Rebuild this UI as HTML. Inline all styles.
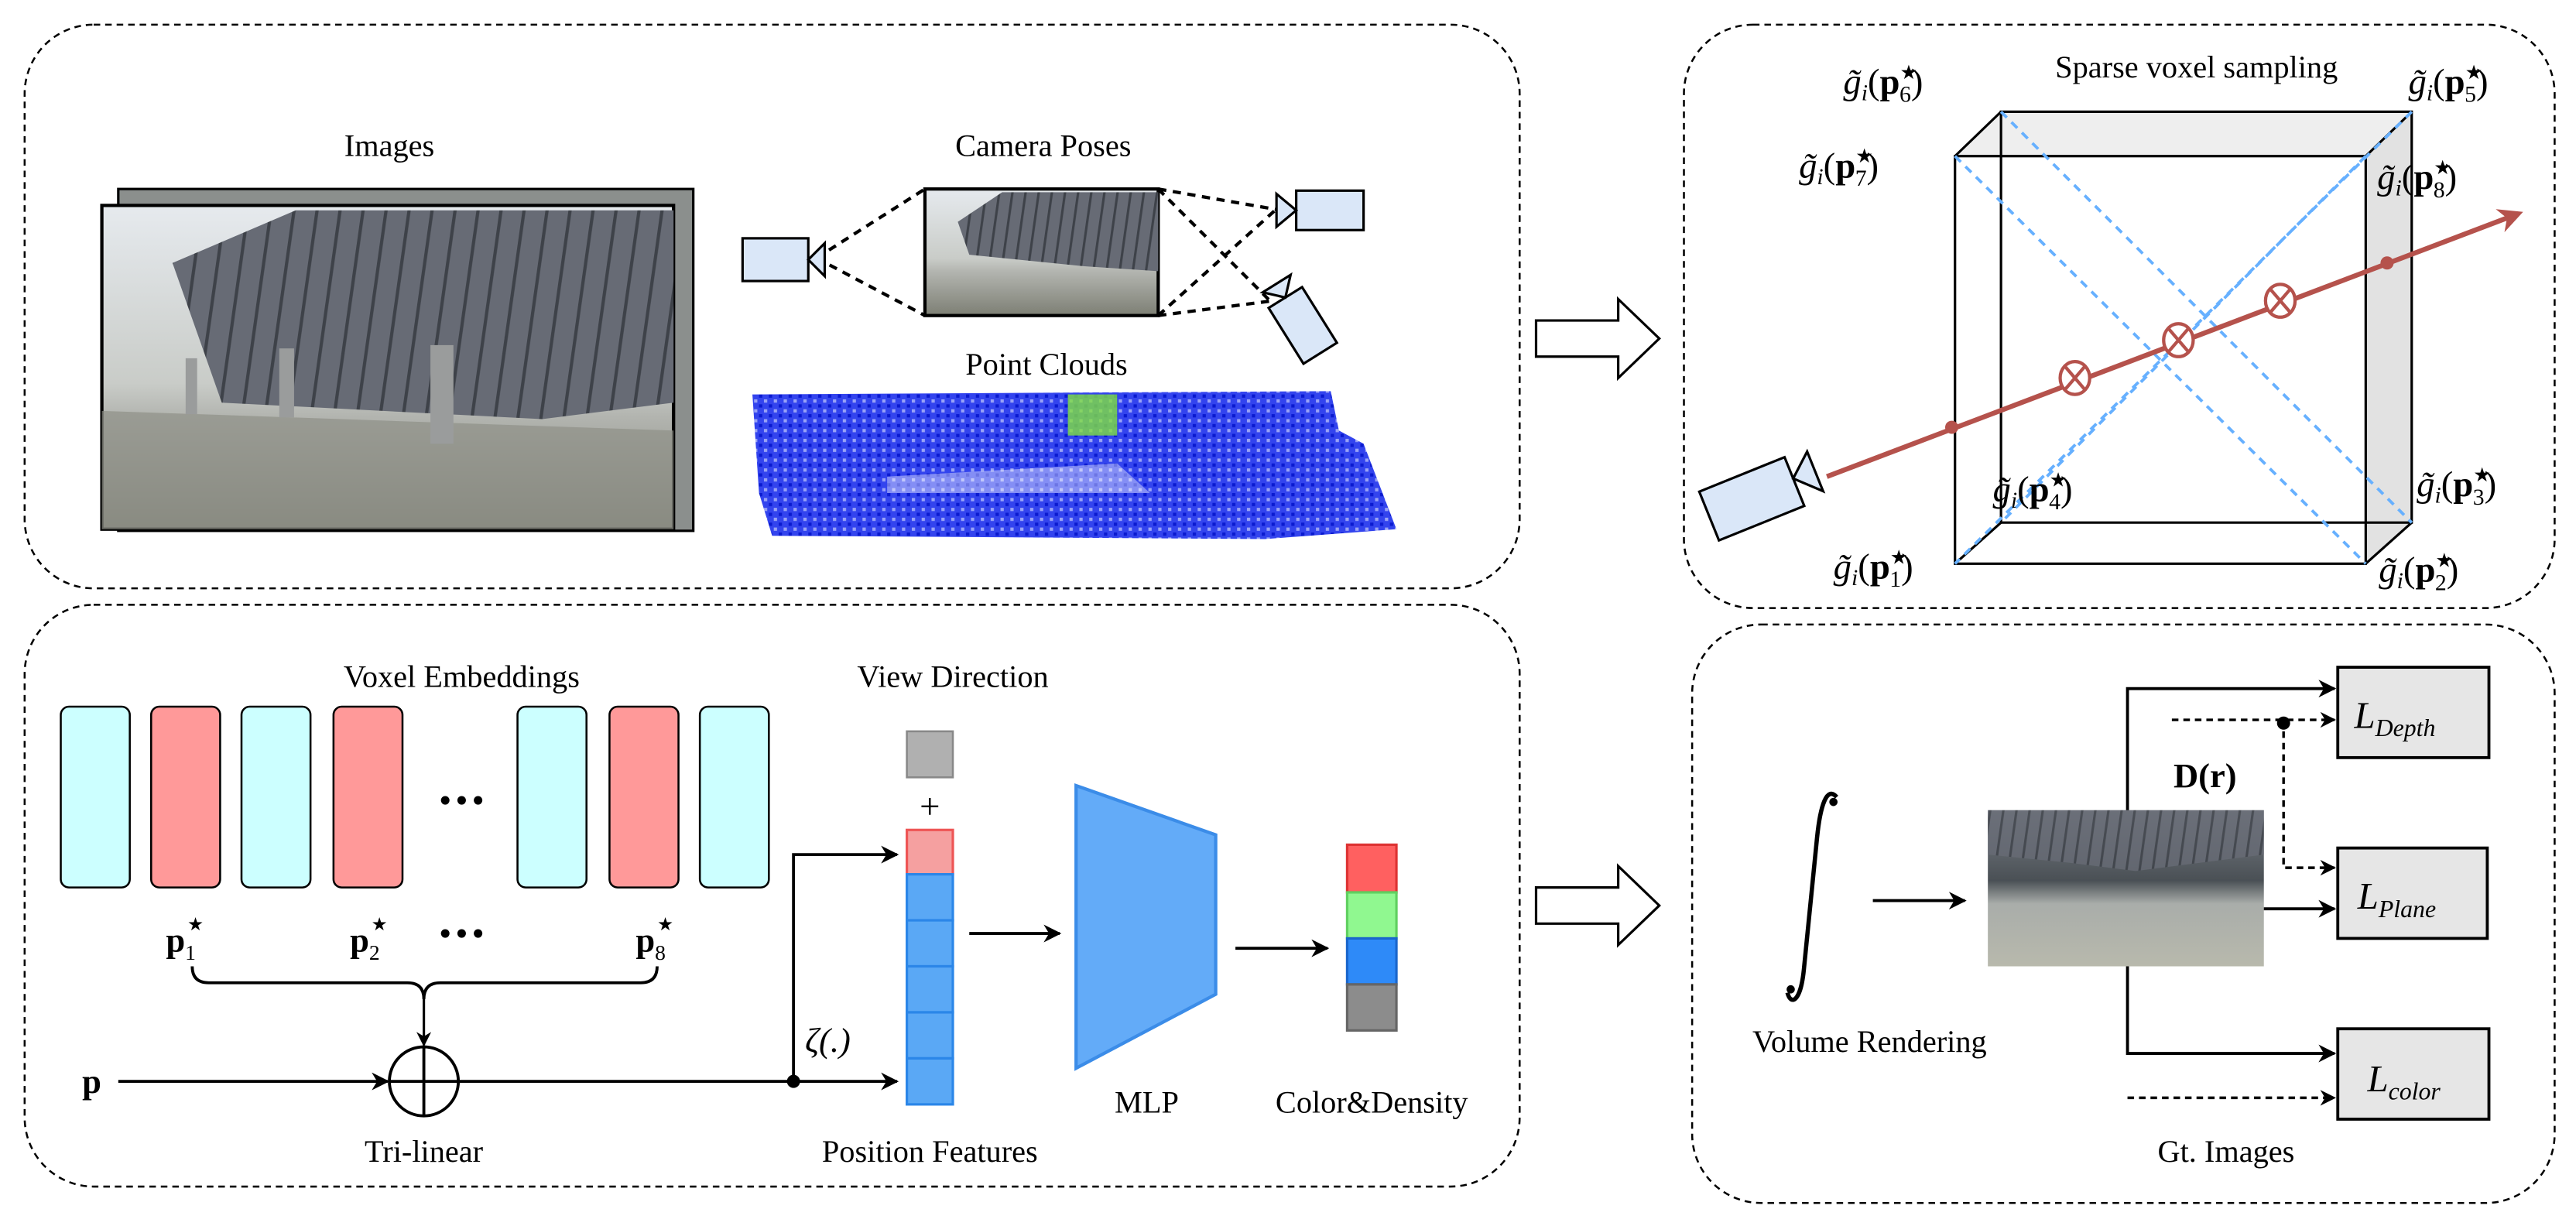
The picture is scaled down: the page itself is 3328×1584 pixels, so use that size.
<!DOCTYPE html>
<html><head><meta charset="utf-8"><style>
html,body{margin:0;padding:0;background:#fff;}
svg{display:block;font-family:"Liberation Serif","DejaVu Serif",serif;}
svg text{font-family:"Liberation Serif","DejaVu Serif",serif;fill:#000;}
</style></head><body>
<svg width="3328" height="1584" viewBox="0 0 1568 746" preserveAspectRatio="none" xmlns="http://www.w3.org/2000/svg" font-family="Liberation Serif, DejaVu Serif, serif">
<defs>
<marker id="ah" viewBox="0 0 10 10" refX="9" refY="5" markerWidth="6" markerHeight="6" orient="auto"><path d="M0,0 L10,5 L0,10 L3,5 z" fill="#000"/></marker>
<marker id="ahr" viewBox="0 0 10 10" refX="8" refY="5" markerWidth="5" markerHeight="5" orient="auto"><path d="M0,0 L10,5 L0,10 L3,5 z" fill="#b5524c"/></marker>
<linearGradient id="sky" x1="0" y1="0" x2="0" y2="1">
<stop offset="0" stop-color="#e6eaee"/><stop offset="0.55" stop-color="#c9ccc8"/><stop offset="0.65" stop-color="#b3b5b0"/><stop offset="1" stop-color="#7d7f74"/></linearGradient>
<pattern id="stripes" width="14" height="20" patternUnits="userSpaceOnUse" patternTransform="skewX(-8)">
<rect width="14" height="20" fill="#676b75"/><rect width="2" height="20" fill="#3e4249"/></pattern>
<pattern id="stripes2" width="8" height="20" patternUnits="userSpaceOnUse" patternTransform="skewX(-8)">
<rect width="8" height="20" fill="#676b75"/><rect width="1.5" height="20" fill="#3e4249"/></pattern>
<pattern id="pc" width="6" height="6" patternUnits="userSpaceOnUse">
<rect width="6" height="6" fill="#3344ee"/><rect width="2" height="2" fill="#0a1ad0"/><rect x="3" y="3" width="2" height="2" fill="#fff" opacity="0.5"/></pattern>
<linearGradient id="photo2" x1="0" y1="0" x2="0" y2="1">
<stop offset="0" stop-color="#7b8088"/><stop offset="0.45" stop-color="#4a5055"/><stop offset="0.6" stop-color="#a9adaa"/><stop offset="1" stop-color="#b8b9ac"/></linearGradient>
</defs>

<g fill="none" stroke="#000" stroke-width="1.2" stroke-dasharray="4,3">
<rect x="15" y="15" width="910" height="343" rx="42"/>
<rect x="1025" y="15" width="530" height="355" rx="42"/>
<rect x="15" y="368" width="910" height="354" rx="42"/>
<rect x="1030" y="380" width="525" height="352" rx="42"/>
</g>

<text x="237" y="95" font-size="19" text-anchor="middle">Images</text>
<rect x="72" y="115" width="350" height="208" fill="#8b8f8d" stroke="#000" stroke-width="1.5"/>
<rect x="62" y="125" width="348" height="197" fill="url(#sky)" stroke="#000" stroke-width="2"/>
<polygon points="105,160 180,128 410,128 410,245 330,255 135,245" fill="url(#stripes)"/>
<polygon points="62,250 410,262 410,322 62,322" fill="#8e9088" opacity="0.7"/>
<g fill="#9a9c9c"><rect x="262" y="210" width="14" height="60"/><rect x="170" y="212" width="9" height="42"/><rect x="113" y="218" width="7" height="34"/></g>
<text x="635" y="95" font-size="19" text-anchor="middle">Camera Poses</text>
<rect x="563" y="115" width="142" height="77" fill="url(#sky)" stroke="#000" stroke-width="2"/>
<polygon points="583,135 610,117 705,117 705,165 660,162 590,155" fill="url(#stripes2)"/>
<g stroke="#000" stroke-width="2" stroke-dasharray="5,4" fill="none">
<path d="M497,157 L563,115 M497,157 L563,192"/>
<path d="M705,115 L780,128 M705,115 L775,185 M705,192 L775,183 M705,192 L785,120"/>
</g>
<g fill="#dae7f8" stroke="#000" stroke-width="1.5">
<rect x="452" y="145" width="40" height="26"/><polygon points="492,158 502,148 502,168"/>
<rect x="789" y="116" width="41" height="24"/><polygon points="789,128 777,118 777,138"/>
<g transform="translate(793,198) rotate(58)"><rect x="-20" y="-12" width="40" height="24"/><polygon points="-20,0 -30,-10 -30,10"/></g>
</g>
<text x="637" y="228" font-size="19" text-anchor="middle">Point Clouds</text>
<polygon points="458,240 810,238 815,262 830,270 850,322 770,328 470,326 462,300" fill="url(#pc)"/>
<rect x="650" y="240" width="30" height="25" fill="#7fe040" opacity="0.8"/>
<polygon points="540,290 680,282 700,300 540,300" fill="#fff" opacity="0.4"/>

<g fill="#fff" stroke="#000" stroke-width="1.5">
<polygon points="935,195 985,195 985,182 1010,206 985,230 985,217 935,217"/>
<polygon points="935,540 985,540 985,527 1010,551 985,575 985,562 935,562"/>
</g>

<text x="1337" y="47" font-size="19" text-anchor="middle">Sparse voxel sampling</text>
<polygon points="1190,95 1218,68 1468,68 1440,95" fill="#eeeeee"/>
<polygon points="1440,95 1468,68 1468,318 1440,343" fill="#e2e2e2"/>
<g stroke="#000" stroke-width="1.5" fill="none">
<rect x="1190" y="95" width="250" height="248"/>
<polyline points="1218,318 1218,68 1468,68 1468,318 1218,318"/>
<path d="M1190,95 L1218,68 M1440,95 L1468,68 M1440,343 L1468,318 M1190,343 L1218,318"/>
</g>
<g stroke="#66b0ff" stroke-width="1.8" stroke-dasharray="5,4" fill="none">
<path d="M1190,95 L1440,343 M1218,68 L1468,318 M1468,68 L1190,343 M1440,95 L1218,318"/>
</g>
<line x1="1112" y1="290" x2="1533" y2="130" stroke="#b5524c" stroke-width="3" marker-end="url(#ahr)"/>
<g fill="#b5524c"><circle cx="1188" cy="260" r="4"/><circle cx="1453" cy="160" r="4"/></g>
<g stroke="#b5524c" stroke-width="2" fill="#fff">
<g transform="translate(1263,230)"><ellipse rx="9" ry="10"/><path d="M-6,-7 L6,7 M6,-7 L-6,7"/></g>
<g transform="translate(1326,207)"><ellipse rx="9" ry="10"/><path d="M-6,-7 L6,7 M6,-7 L-6,7"/></g>
<g transform="translate(1388,183)"><ellipse rx="9" ry="10"/><path d="M-6,-7 L6,7 M6,-7 L-6,7"/></g>
</g>
<g fill="#dae7f8" stroke="#000" stroke-width="1.5" transform="translate(1070,302) rotate(-22)">
<rect x="-32" y="-16" width="56" height="32"/><polygon points="24,-2 38,-14 38,12"/>
</g>
<g font-size="22">
<text x="1122" y="57"><tspan font-style="italic">g̃</tspan><tspan font-size="14" font-style="italic" dy="4">i</tspan><tspan dy="-4">(</tspan><tspan font-weight="bold">p</tspan><tspan font-size="12" dy="-9">★</tspan><tspan font-size="14" dx="-11" dy="14">6</tspan><tspan dy="-5">)</tspan></text>
<text x="1466" y="57"><tspan font-style="italic">g̃</tspan><tspan font-size="14" font-style="italic" dy="4">i</tspan><tspan dy="-4">(</tspan><tspan font-weight="bold">p</tspan><tspan font-size="12" dy="-9">★</tspan><tspan font-size="14" dx="-11" dy="14">5</tspan><tspan dy="-5">)</tspan></text>
<text x="1095" y="108"><tspan font-style="italic">g̃</tspan><tspan font-size="14" font-style="italic" dy="4">i</tspan><tspan dy="-4">(</tspan><tspan font-weight="bold">p</tspan><tspan font-size="12" dy="-9">★</tspan><tspan font-size="14" dx="-11" dy="14">7</tspan><tspan dy="-5">)</tspan></text>
<text x="1447" y="115"><tspan font-style="italic">g̃</tspan><tspan font-size="14" font-style="italic" dy="4">i</tspan><tspan dy="-4">(</tspan><tspan font-weight="bold">p</tspan><tspan font-size="12" dy="-9">★</tspan><tspan font-size="14" dx="-11" dy="14">8</tspan><tspan dy="-5">)</tspan></text>
<text x="1213" y="305"><tspan font-style="italic">g̃</tspan><tspan font-size="14" font-style="italic" dy="4">i</tspan><tspan dy="-4">(</tspan><tspan font-weight="bold">p</tspan><tspan font-size="12" dy="-9">★</tspan><tspan font-size="14" dx="-11" dy="14">4</tspan><tspan dy="-5">)</tspan></text>
<text x="1471" y="302"><tspan font-style="italic">g̃</tspan><tspan font-size="14" font-style="italic" dy="4">i</tspan><tspan dy="-4">(</tspan><tspan font-weight="bold">p</tspan><tspan font-size="12" dy="-9">★</tspan><tspan font-size="14" dx="-11" dy="14">3</tspan><tspan dy="-5">)</tspan></text>
<text x="1116" y="352"><tspan font-style="italic">g̃</tspan><tspan font-size="14" font-style="italic" dy="4">i</tspan><tspan dy="-4">(</tspan><tspan font-weight="bold">p</tspan><tspan font-size="12" dy="-9">★</tspan><tspan font-size="14" dx="-11" dy="14">1</tspan><tspan dy="-5">)</tspan></text>
<text x="1448" y="354"><tspan font-style="italic">g̃</tspan><tspan font-size="14" font-style="italic" dy="4">i</tspan><tspan dy="-4">(</tspan><tspan font-weight="bold">p</tspan><tspan font-size="12" dy="-9">★</tspan><tspan font-size="14" dx="-11" dy="14">2</tspan><tspan dy="-5">)</tspan></text>
</g>

<text x="281" y="418" font-size="19" text-anchor="middle">Voxel Embeddings</text>
<text x="580" y="418" font-size="19" text-anchor="middle">View Direction</text>
<g stroke="#000" stroke-width="1.2">
<rect x="37" y="430" width="42" height="110" rx="5" fill="#ccffff"/>
<rect x="92" y="430" width="42" height="110" rx="5" fill="#ff9999"/>
<rect x="147" y="430" width="42" height="110" rx="5" fill="#ccffff"/>
<rect x="203" y="430" width="42" height="110" rx="5" fill="#ff9999"/>
<rect x="315" y="430" width="42" height="110" rx="5" fill="#ccffff"/>
<rect x="371" y="430" width="42" height="110" rx="5" fill="#ff9999"/>
<rect x="426" y="430" width="42" height="110" rx="5" fill="#ccffff"/>
</g>
<g fill="#000"><circle cx="271" cy="487" r="2.6"/><circle cx="281" cy="487" r="2.6"/><circle cx="291" cy="487" r="2.6"/>
<circle cx="271" cy="568" r="2.6"/><circle cx="281" cy="568" r="2.6"/><circle cx="291" cy="568" r="2.6"/></g>
<g font-size="21" font-weight="bold">
<text x="101" y="579">p<tspan font-size="13" dy="5" font-weight="normal">1</tspan></text>
<text x="213" y="579">p<tspan font-size="13" dy="5" font-weight="normal">2</tspan></text>
<text x="387" y="579">p<tspan font-size="13" dy="5" font-weight="normal">8</tspan></text>
</g>
<g font-size="11"><text x="114" y="566">★</text><text x="226" y="566">★</text><text x="400" y="566">★</text></g>
<path d="M117,588 Q117,598 127,598 L248,598 Q258,598 258,608 Q258,598 268,598 L390,598 Q400,598 400,588" fill="none" stroke="#000" stroke-width="1.8"/>
<line x1="258" y1="608" x2="258" y2="636" stroke="#000" stroke-width="1.5" marker-end="url(#ah)"/>
<circle cx="258" cy="658" r="21" fill="none" stroke="#000" stroke-width="1.8"/>
<path d="M237,658 L279,658 M258,637 L258,679" stroke="#000" stroke-width="1.8"/>
<text x="50" y="665" font-size="21" font-weight="bold">p</text>
<line x1="72" y1="658" x2="236" y2="658" stroke="#000" stroke-width="1.8" marker-end="url(#ah)"/>
<line x1="279" y1="658" x2="546" y2="658" stroke="#000" stroke-width="1.8" marker-end="url(#ah)"/>
<circle cx="483" cy="658" r="4" fill="#000"/>
<polyline points="483,658 483,520 546,520" fill="none" stroke="#000" stroke-width="1.8" marker-end="url(#ah)"/>
<text x="490" y="640" font-size="21" font-style="italic">ζ(.)</text>
<text x="258" y="707" font-size="19" text-anchor="middle">Tri-linear</text>
<text x="566" y="707" font-size="19" text-anchor="middle">Position Features</text>
<rect x="552" y="445" width="28" height="28" fill="#b0b0b0" stroke="#888" stroke-width="1.2"/>
<text x="566" y="498" font-size="22" text-anchor="middle">+</text>
<rect x="552" y="505" width="28" height="27" fill="#f5a0a0" stroke="#ee5555" stroke-width="1.5"/>
<g fill="#5aa8f5" stroke="#2b86e8" stroke-width="1.5">
<rect x="552" y="532" width="28" height="28"/><rect x="552" y="560" width="28" height="28"/><rect x="552" y="588" width="28" height="28"/><rect x="552" y="616" width="28" height="28"/><rect x="552" y="644" width="28" height="28"/>
</g>
<line x1="590" y1="568" x2="645" y2="568" stroke="#000" stroke-width="1.8" marker-end="url(#ah)"/>
<polygon points="655,478 740,508 740,605 655,650" fill="#63abf8" stroke="#3b8ce8" stroke-width="2"/>
<text x="698" y="677" font-size="19" text-anchor="middle">MLP</text>
<line x1="752" y1="577" x2="808" y2="577" stroke="#000" stroke-width="1.8" marker-end="url(#ah)"/>
<rect x="820" y="514" width="30" height="29" fill="#ff6060" stroke="#dd3333" stroke-width="1.5"/>
<rect x="820" y="543" width="30" height="28" fill="#90f890" stroke="#60d060" stroke-width="1.5"/>
<rect x="820" y="571" width="30" height="28" fill="#2e8af8" stroke="#1a66cc" stroke-width="1.5"/>
<rect x="820" y="599" width="30" height="28" fill="#8c8c8c" stroke="#666" stroke-width="1.5"/>
<text x="835" y="677" font-size="19" text-anchor="middle">Color&amp;Density</text>

<path d="M1118,485 C1112,478 1108,490 1106,510 L1098,590 C1096,610 1090,612 1088,604" fill="none" stroke="#000" stroke-width="2.6"/>
<circle cx="1116" cy="488" r="2.5" fill="#000"/><circle cx="1090" cy="602" r="2.5" fill="#000"/>
<line x1="1140" y1="548" x2="1196" y2="548" stroke="#000" stroke-width="1.8" marker-end="url(#ah)"/>
<text x="1138" y="640" font-size="19" text-anchor="middle">Volume Rendering</text>
<rect x="1210" y="493" width="168" height="95" fill="url(#photo2)"/>
<polygon points="1210,493 1378,493 1378,520 1300,530 1260,525 1210,520" fill="url(#stripes2)" opacity="0.8"/>
<g stroke="#000" stroke-width="1.8" fill="none">
<polyline points="1295,493 1295,419 1421,419" marker-end="url(#ah)"/>
<line x1="1378" y1="553" x2="1421" y2="553" marker-end="url(#ah)"/>
<polyline points="1295,588 1295,641 1421,641" marker-end="url(#ah)"/>
</g>
<g stroke="#000" stroke-width="1.6" fill="none" stroke-dasharray="4,3">
<line x1="1322" y1="438" x2="1421" y2="438" marker-end="url(#ah)"/>
<polyline points="1390,438 1390,528 1421,528" marker-end="url(#ah)"/>
<line x1="1295" y1="668" x2="1421" y2="668" marker-end="url(#ah)"/>
</g>
<circle cx="1390" cy="440" r="4" fill="#000"/>
<text x="1323" y="479" font-size="21" font-weight="bold">D(r)</text>
<g fill="#e6e6e6" stroke="#000" stroke-width="1.8">
<rect x="1423" y="406" width="92" height="55"/>
<rect x="1423" y="516" width="91" height="55"/>
<rect x="1423" y="626" width="92" height="55"/>
</g>
<g font-size="23" font-style="italic">
<text x="1433" y="443">L<tspan font-size="15" dy="5">Depth</tspan></text>
<text x="1435" y="553">L<tspan font-size="15" dy="5">Plane</tspan></text>
<text x="1441" y="664">L<tspan font-size="15" dy="5">color</tspan></text>
</g>
<text x="1355" y="707" font-size="19" text-anchor="middle">Gt. Images</text>
</svg>
</body></html>
